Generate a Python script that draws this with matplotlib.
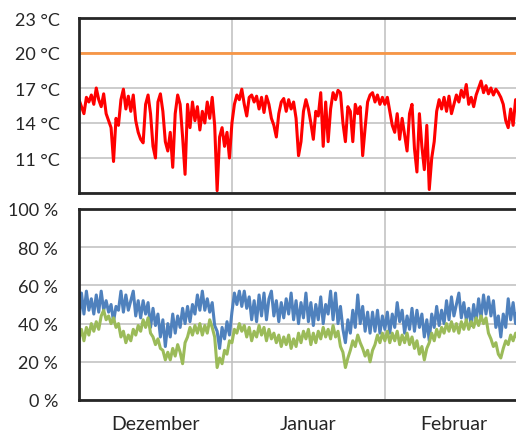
import numpy as np
import matplotlib
matplotlib.use("Agg")
import matplotlib.pyplot as plt

plt.rcParams['font.family'] = ['Lato', 'DejaVu Sans']

# Raumtemperatur, zwei Werte pro Tag
temp_dez = [16.0, 15.4, 14.8, 16.2, 15.8, 16.4, 15.6, 17.0, 16.0, 15.4,
            16.5, 14.8, 14.2, 13.6, 10.7, 14.4, 13.8, 16.0, 16.9, 15.2,
            16.3, 15.0, 16.4, 14.2, 13.2, 12.6, 12.3, 15.6, 16.4, 14.8,
            12.0, 11.0, 15.8, 16.5, 15.0, 12.4, 11.6, 13.2, 10.2, 14.8,
            16.4, 15.6, 12.8, 9.6, 15.6, 13.6, 15.8, 14.2, 15.4, 13.4,
            15.0, 14.0, 15.8, 14.4, 16.2, 13.8, 8.2, 12.8, 13.6, 12.0,
            13.2, 11.0]
temp_jan = [14.0, 15.6, 16.4, 16.0, 16.9, 15.6, 14.6, 16.2, 16.4, 15.8,
            16.3, 15.2, 16.2, 14.9, 16.3, 15.6, 14.4, 13.8, 12.8, 14.8,
            15.8, 16.1, 15.0, 16.0, 15.2, 15.8, 14.4, 11.2, 12.4, 15.0,
            16.0, 15.2, 14.0, 12.6, 15.0, 14.6, 16.6, 12.0, 15.8, 12.4,
            15.2, 16.6, 16.0, 16.8, 16.6, 14.0, 12.4, 15.4, 15.0, 12.4,
            15.6, 14.8, 15.4, 11.2, 13.6, 15.8, 16.4, 16.6, 15.8, 16.4,
            15.6, 16.2]
temp_feb = [15.6, 16.2, 15.0, 13.8, 13.2, 14.8, 12.6, 14.4, 13.0, 11.6,
            14.8, 15.6, 11.8, 9.8, 14.8, 12.0, 10.0, 13.8, 8.3, 11.0,
            12.4, 15.0, 16.0, 15.2, 16.2, 15.0, 16.3, 14.8, 15.6, 16.4,
            15.8, 16.8, 16.2, 17.3, 15.6, 16.2, 15.4, 16.4, 17.0, 17.6,
            16.6, 17.2, 16.5, 17.0, 16.4, 16.9, 16.6, 16.2, 15.6, 14.2,
            13.6, 15.2, 13.8, 16.0, 15.6, 15.0]
soll_temp = 20

# relative Feuchte (blau) und zweite Feuchtekurve (gruen)
rh_dez = [41, 56, 45, 57, 47, 53, 45, 55, 46, 57,
          47, 52, 46, 50, 41, 49, 47, 57, 46, 55,
          47, 52, 57, 44, 52, 43, 52, 45, 51, 38,
          48, 39, 45, 33, 42, 28, 40, 33, 45, 35,
          44, 38, 48, 40, 49, 41, 50, 45, 55, 47,
          57, 47, 53, 46, 51, 39, 36, 27, 38, 32,
          41, 34]
rh_jan = [46, 56, 50, 57, 49, 57, 48, 54, 42, 52,
          41, 55, 44, 56, 42, 53, 57, 44, 52, 41,
          51, 43, 53, 45, 56, 42, 52, 40, 51, 43,
          56, 41, 51, 39, 50, 42, 54, 40, 50, 45,
          57, 42, 56, 40, 49, 37, 30, 42, 35, 47,
          38, 55, 40, 49, 36, 46, 35, 46, 36, 47,
          35, 44]
rh_feb = [37, 46, 35, 45, 38, 51, 41, 47, 35, 44,
          37, 48, 36, 47, 38, 45, 33, 42, 31, 45,
          38, 49, 39, 47, 40, 52, 42, 54, 44, 50,
          56, 43, 51, 42, 48, 39, 50, 41, 53, 43,
          55, 45, 54, 44, 52, 38, 44, 33, 45, 38,
          53, 42, 51, 40, 49, 41]

gr_dez = [32, 37, 31, 38, 34, 40, 36, 41, 37,
          44, 47, 42, 44, 40, 43, 38, 40,
          33, 36, 30, 34, 31, 37, 34, 39, 36, 42, 38, 43,
          35, 33, 29, 32, 27, 26, 21, 25, 21, 27, 23, 29, 25, 19,
          30, 33, 38, 34, 39, 35, 40, 34, 39, 35, 42, 38, 33,
          17, 22, 19, 26, 24, 31]
gr_jan = [30, 37, 35, 40, 36, 39, 33, 38, 31, 36,
          33, 39, 34, 38, 31, 37, 32, 35, 30, 34,
          28, 33, 29, 34, 27, 32, 28, 35, 30, 36,
          32, 37, 29, 35, 30, 36, 32, 38, 33, 37,
          32, 39, 33, 36, 28, 25, 17, 22, 26, 31,
          28, 34, 30, 27, 23, 26, 20, 26, 29, 34,
          30, 35]
gr_feb = [31, 36, 30, 35, 31, 36, 29, 34, 30, 35,
          29, 33, 27, 31, 24, 28, 21, 27, 30, 35,
          31, 37, 33, 38, 35, 40, 36, 41, 36, 40,
          35, 41, 37, 42, 37, 41, 38, 43, 39, 44,
          40, 43, 35, 32, 28, 30, 24, 22, 27, 31,
          29, 34, 31, 35, 32, 36]

months = ['Dezember', 'Januar', 'Februar']
month_days = [31, 31, 28]

temp = temp_dez + temp_jan + temp_feb
rh = rh_dez + rh_jan + rh_feb
gr = gr_dez + gr_jan + gr_feb
t = np.arange(len(temp)) * 0.5

bounds = np.concatenate([[0], np.cumsum(month_days)])
mids = (bounds[:-1] + bounds[1:]) / 2

fig = plt.figure(figsize=(5.16, 4.35), dpi=100)
ax1 = fig.add_axes([79 / 516, 1 - 194 / 435, 444 / 516, 175 / 435])
ax2 = fig.add_axes([79 / 516, 1 - 401 / 435, 444 / 516, 191 / 435])

grid_c = '#bfbfbf'
spine_c = '#262626'

for ax in (ax1, ax2):
    ax.set_xlim(bounds[0], bounds[-1])
    ax.set_xticks(bounds)
    ax.set_xticks(mids, minor=True)
    ax.grid(True, which='major', color=grid_c, lw=1.1)
    ax.set_axisbelow(True)
    ax.tick_params(which='both', length=0, labelsize=13, colors='#262626')
    for s in ax.spines.values():
        s.set_color(spine_c)
        s.set_linewidth(2)
    ax.set_xticklabels([])

ax1.plot([bounds[0], bounds[-1]], [soll_temp, soll_temp], color='#f79646', lw=2)
ax1.plot(t, temp, color='#ff0000', lw=2.2)
ax1.set_ylim(8, 23)
ax1.set_yticks([8, 11, 14, 17, 20, 23])
ax1.set_yticklabels(['', '11 °C', '14 °C', '17 °C', '20 °C', '23 °C'])
ax1.tick_params(axis='y', pad=14)

ax2.plot(t, rh, color='#4f81bd', lw=2.2)
ax2.plot(t, gr, color='#9bbb59', lw=2.2)
ax2.set_ylim(0, 100)
ax2.set_yticks(range(0, 101, 20))
ax2.set_yticklabels([f'{v} %' for v in range(0, 101, 20)])
ax2.tick_params(axis='y', pad=15)
ax2.set_xticklabels(months, minor=True)
ax2.tick_params(axis='x', which='minor', pad=11, labelsize=14)

fig.savefig('out.png', dpi=100)
